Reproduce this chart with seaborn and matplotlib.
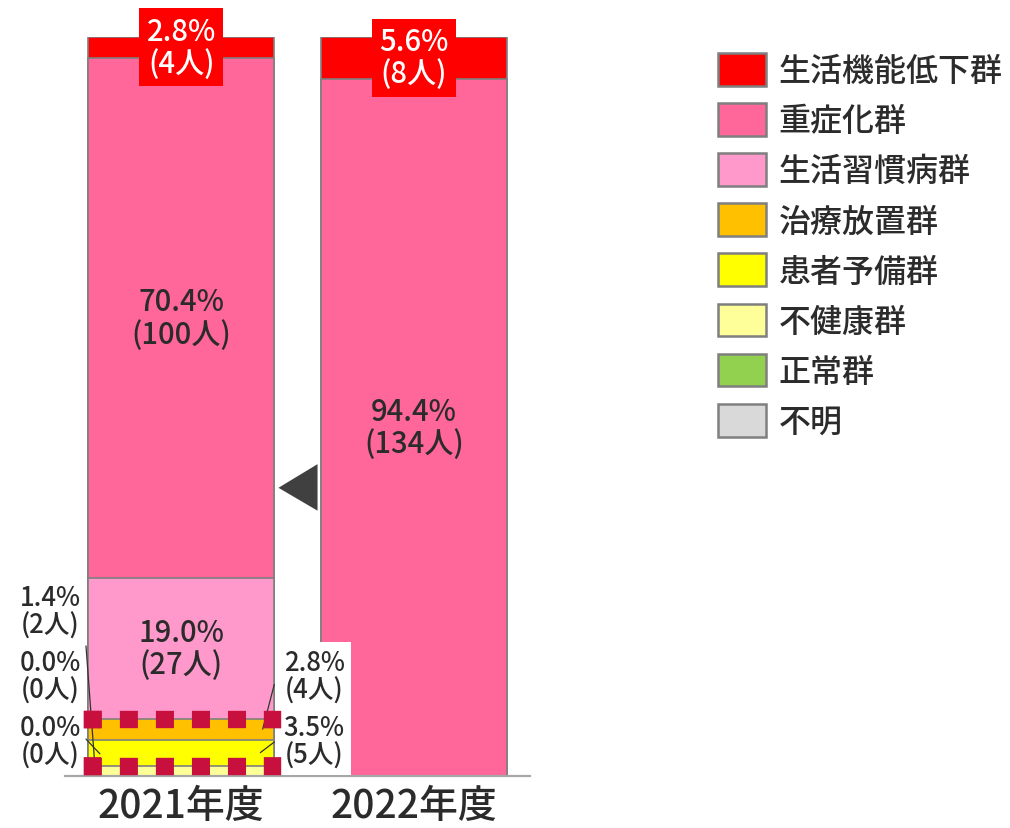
import matplotlib
matplotlib.use("Agg")
import matplotlib.pyplot as plt
from matplotlib.patches import Patch, Polygon
import seaborn as sns
import pandas as pd
import numpy as np

# Fiscal years and risk groups (listed from the top of the stack downward)
years = ["2021年度", "2022年度"]
groups = ["生活機能低下群", "重症化群", "生活習慣病群", "治療放置群",
          "患者予備群", "不健康群", "正常群", "不明"]
colors = ["#FF0000", "#FF6699", "#FF99CC", "#FFC000",
          "#FFFF00", "#FFFF99", "#92D050", "#D9D9D9"]
counts_2021 = [4, 100, 27, 4, 5, 2, 0, 0]
counts_2022 = [8, 134, 0, 0, 0, 0, 0, 0]

sns.set_theme(style="white")
plt.rcParams["font.family"] = ["Noto Sans CJK JP", "DejaVu Sans"]
plt.rcParams["font.weight"] = 500
TEXT = "#2B2B2B"
EDGE = "#7F7F7F"

counts = pd.DataFrame({years[0]: counts_2021, years[1]: counts_2022}, index=groups)
pct = counts / counts.sum() * 100
stack = pct.iloc[::-1]            # bottom of the stack first
tops = stack.cumsum()
bottoms = tops - stack

fig = plt.figure(figsize=(10.1, 8.29), dpi=100)
ax = fig.add_axes([0.0644, 0.0627, 0.4604, 0.8915])

# Each layer is drawn at its cumulative height; lower layers are drawn later and cover the rest
for g, c in zip(groups, colors):
    df = pd.DataFrame({"year": years, "value": tops.loc[g].values})
    sns.barplot(data=df, x="year", y="value", color=c, saturation=1, width=0.8,
                edgecolor=EDGE, linewidth=1.2, ax=ax, errorbar=None)

ax.set_xlim(-0.5, 1.5)
ax.set_ylim(0, 100)
ax.set_xlabel("")
ax.set_ylabel("")
ax.set_yticks([])
ax.tick_params(axis="x", length=0, labelsize=28, labelcolor=TEXT, pad=7)
for s in ["top", "right", "left"]:
    ax.spines[s].set_visible(False)
ax.spines["bottom"].set_color("#A6A6A6")
ax.spines["bottom"].set_linewidth(1.6)


def label(g, y):
    return f"{pct.loc[g, y]:.1f}%\n({counts.loc[g, y]}人)"


LS = 1.05
# Large segments: label at segment centre
for i, y in enumerate(years):
    for g in ["重症化群", "生活習慣病群"]:
        if pct.loc[g, y] >= 5:
            mid = (bottoms.loc[g, y] + tops.loc[g, y]) / 2
            ax.text(i, mid, label(g, y), ha="center", va="center", fontsize=21,
                    color=TEXT, linespacing=LS)
    g = "生活機能低下群"
    mid = (bottoms.loc[g, y] + tops.loc[g, y]) / 2
    ax.text(i, mid, label(g, y), ha="center", va="center", fontsize=21,
            color="white", linespacing=LS, clip_on=False, zorder=5,
            bbox=dict(boxstyle="square,pad=0.25", fc="#FF0000", ec="none"))

# Small 2021 segments: labels beside the bar with leader lines
y0 = years[0]
left_labels = [("不健康群", 22.3), ("正常群", 13.5), ("不明", 4.7)]
for g, ty in left_labels:
    ax.text(-0.565, ty, label(g, y0), ha="center", va="center", fontsize=18.5,
            color=TEXT, linespacing=LS, clip_on=False)
right_labels = [("治療放置群", 13.5), ("患者予備群", 4.7)]
for g, ty in right_labels:
    ax.text(0.572, ty, label(g, y0), ha="center", va="center", fontsize=18.5,
            color=TEXT, linespacing=LS, clip_on=False, zorder=5,
            bbox=dict(boxstyle="square,pad=0.24", fc="white", ec="none"))

leader = dict(color="#333333", lw=0.9, zorder=4)
ax.plot([-0.41, -0.37], [17.6, (bottoms.loc["不健康群", y0] + tops.loc["不健康群", y0]) / 2], **leader)
ax.plot([-0.41, -0.35], [5.0, 3.0], **leader)
ax.plot([0.40, 0.35], [12.4, (bottoms.loc["治療放置群", y0] + tops.loc["治療放置群", y0]) / 2], **leader)
ax.plot([0.40, 0.34], [4.6, (bottoms.loc["患者予備群", y0] + tops.loc["患者予備群", y0]) / 2], **leader)

# Dotted frame around the at-risk groups of 2021: square dots, one on every corner
fy0 = bottoms.loc["患者予備群", y0]
fy1 = tops.loc["治療放置群", y0]
fx0, fx1 = -0.385, 0.39
FRAME_LW = 12.5
lw_px = FRAME_LW * fig.dpi / 72
sides = [((fx0, fy1), (fx1, fy1), 5), ((fx0, fy0), (fx1, fy0), 5),
         ((fx0, fy0), (fx0, fy1), 1), ((fx1, fy0), (fx1, fy1), 1)]
for p0, p1, n_gaps in sides:
    d0, d1 = ax.transData.transform([p0, p1])
    length = np.hypot(*(d1 - d0))
    period = length / n_gaps / lw_px
    ax.plot([p0[0], p1[0]], [p0[1], p1[1]], color="#C8103E", lw=FRAME_LW,
            ls=(0, (0.04, period - 0.04)), dash_capstyle="projecting",
            solid_capstyle="projecting", zorder=6, clip_on=False)

# Arrow between the two years
ax.add_patch(Polygon([(0.418, 39.0), (0.586, 42.2), (0.586, 35.9)], closed=True,
                     fc="#404040", ec="none", zorder=3))

handles = [Patch(facecolor=c, edgecolor=EDGE, linewidth=1.8) for c in colors]
fig.legend(handles, groups, loc="upper left", bbox_to_anchor=(0.711, 0.935),
           frameon=False, fontsize=23, handlelength=1.5, handleheight=1.2,
           handletextpad=0.4, labelspacing=0.5, borderpad=0, borderaxespad=0,
           labelcolor=TEXT)

fig.savefig("out.png", dpi=100)
